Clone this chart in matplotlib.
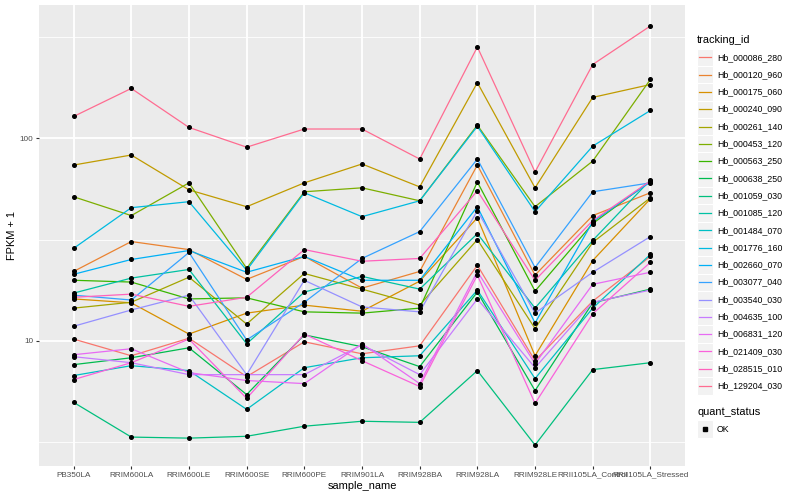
import numpy as np
import matplotlib
matplotlib.use('Agg')
import matplotlib.pyplot as plt
from matplotlib.lines import Line2D
from matplotlib.patches import Rectangle
from matplotlib.ticker import NullFormatter

plt.rcParams['font.family'] = ['Liberation Sans', 'DejaVu Sans']

samples = ['PB350LA', 'RRIM600LA', 'RRIM600LE', 'RRIM600SE', 'RRIM600PE',
           'RRIM901LA', 'RRIM928BA', 'RRIM928LA', 'RRIM928LE',
           'RRII105LA_Control', 'RRII105LA_Stressed']

# FPKM + 1 per sample
hb_000086_280 = [10.2, 8.44, 10.3, 6.66, 9.89, 8.63, 9.45, 23.6, 7.98, 15.7, 26.1]
hb_000120_960 = [22.0, 30.9, 28.2, 20.1, 26.1, 18.2, 22.0, 73.7, 21.1, 41.5, 53.8]
hb_000175_060 = [16.1, 15.4, 10.8, 13.7, 15.0, 14.0, 19.7, 40.5, 8.44, 24.9, 50.2]
hb_000240_090 = [73.7, 82.6, 55.6, 45.9, 60.2, 74.6, 57.5, 188, 56.9, 159, 184]
hb_000261_140 = [14.5, 15.5, 20.6, 12.1, 21.5, 18.0, 15.0, 31.6, 11.5, 30.6, 50.8]
hb_000453_120 = [51.4, 41.5, 60.2, 22.8, 54.4, 56.9, 49.1, 116, 45.9, 77.1, 195]
hb_000563_250 = [19.9, 19.5, 16.1, 16.3, 13.9, 13.7, 14.5, 60.8, 17.6, 37.9, 61.5]
hb_000638_250 = [7.63, 8.25, 9.24, 5.43, 10.7, 9.35, 7.46, 17.4, 5.68, 15.4, 18.0]
hb_001059_030 = [4.97, 3.35, 3.31, 3.38, 3.79, 4.01, 3.96, 7.13, 3.06, 7.21, 7.80]
hb_001085_120 = [17.2, 20.4, 22.5, 9.67, 17.4, 20.8, 18.0, 33.8, 14.5, 31.3, 62.2]
hb_001484_070 = [6.74, 7.54, 7.13, 4.59, 7.37, 8.25, 8.44, 17.8, 6.51, 14.5, 26.7]
hb_001776_160 = [28.6, 45.4, 48.6, 22.3, 53.8, 41.0, 49.1, 114.5, 43.4, 91.4, 137]
hb_002660_070 = [21.3, 25.2, 27.9, 21.8, 26.1, 19.9, 19.9, 45.9, 12.25, 38.7, 60.8]
hb_003077_040 = [16.8, 15.9, 27.3, 10.1, 15.5, 25.5, 34.6, 78.9, 23.0, 54.4, 60.2]
hb_003540_030 = [11.8, 14.2, 16.8, 6.81, 19.9, 14.7, 13.9, 43.9, 13.7, 21.8, 32.7]
hb_004635_100 = [8.35, 7.80, 6.81, 6.81, 6.81, 9.56, 6.81, 16.1, 7.37, 15.5, 17.8]
hb_006831_120 = [8.54, 9.14, 6.97, 6.37, 6.15, 9.67, 6.15, 22.0, 7.71, 19.0, 21.8]
hb_021409_030 = [6.44, 7.80, 10.2, 5.20, 10.8, 7.98, 5.95, 21.1, 4.91, 13.6, 24.4]
hb_028515_010 = [16.4, 17.0, 14.8, 16.4, 28.2, 24.7, 25.5, 55.0, 19.9, 39.2, 61.5]
hb_129204_030 = [128, 176, 113, 90.3, 111, 111, 78.9, 282, 68.1, 231, 358]

tracking_ids = ['Hb_000086_280', 'Hb_000120_960', 'Hb_000175_060', 'Hb_000240_090',
                'Hb_000261_140', 'Hb_000453_120', 'Hb_000563_250', 'Hb_000638_250',
                'Hb_001059_030', 'Hb_001085_120', 'Hb_001484_070', 'Hb_001776_160',
                'Hb_002660_070', 'Hb_003077_040', 'Hb_003540_030', 'Hb_004635_100',
                'Hb_006831_120', 'Hb_021409_030', 'Hb_028515_010', 'Hb_129204_030']
series = [hb_000086_280, hb_000120_960, hb_000175_060, hb_000240_090, hb_000261_140,
          hb_000453_120, hb_000563_250, hb_000638_250, hb_001059_030, hb_001085_120,
          hb_001484_070, hb_001776_160, hb_002660_070, hb_003077_040, hb_003540_030,
          hb_004635_100, hb_006831_120, hb_021409_030, hb_028515_010, hb_129204_030]

# ggplot hue palette, 20 levels
colors = ['#F8766D', '#EA8331', '#D89000', '#C09B00', '#A3A500', '#7CAE00', '#39B600',
          '#00BB4E', '#00BF7D', '#00C1A3', '#00BFC4', '#00BAE0', '#00B0F6', '#35A2FF',
          '#9590FF', '#C77CFF', '#E76BF3', '#FA62DB', '#FF62BC', '#FF6C91']

W, H = 800, 500
fig = plt.figure(figsize=(8, 5), dpi=100)
fx = lambda px: px / W
fy = lambda py: 1 - py / H

ax = fig.add_axes([fx(39), fy(466), fx(685) - fx(39), fy(5) - fy(466)])
ax.set_facecolor('#EBEBEB')
for s in ax.spines.values():
    s.set_visible(False)

x = np.arange(1, len(samples) + 1)
for vals, col in zip(series, colors):
    ax.plot(x, vals, color=col, lw=0.9, zorder=2)
for vals in series:
    ax.plot(x, vals, ls='none', marker='o', ms=2.6, color='black', zorder=3)

ax.set_yscale('log')
allv = np.log10(np.concatenate([np.array(v) for v in series]))
lo, hi = allv.min(), allv.max()
pad = 0.05 * (hi - lo)
ax.set_ylim(10 ** (lo - pad), 10 ** (hi + pad))
ax.set_xlim(0.4, len(samples) + 0.6)

ax.set_yticks([10, 100])
ax.set_yticklabels(['10', '100'])
ax.set_yticks([10 ** 0.5, 10 ** 1.5, 10 ** 2.5], minor=True)
ax.yaxis.set_minor_formatter(NullFormatter())
ax.set_xticks(x)
ax.set_xticklabels(samples)
ax.tick_params(which='major', length=2.5, width=0.8, color='#333333',
               labelsize=5.9, labelcolor='#4D4D4D', pad=1.5)
ax.tick_params(which='minor', length=0)
ax.grid(which='major', color='white', lw=1.3)
ax.grid(which='minor', axis='y', color='white', lw=0.6)
ax.set_axisbelow(True)

ax.set_xlabel('sample_name', fontsize=7.9, labelpad=2)
ax.set_ylabel('FPKM + 1', fontsize=7.9, labelpad=2)

# legend: tracking_id
fig.text(fx(697), fy(40), 'tracking_id', fontsize=7.9, va='center', ha='left')
step = 17.3
for i, (tid, col) in enumerate(zip(tracking_ids, colors)):
    cy = 57.3 + step * i
    fig.add_artist(Rectangle((fx(697), fy(cy + step / 2)), fx(16), step / H,
                             facecolor='#F2F2F2', edgecolor='white', lw=0.8))
    fig.add_artist(Line2D([fx(699), fx(711)], [fy(cy), fy(cy)], color=col, lw=0.9))
    fig.text(fx(717), fy(cy), tid, fontsize=6.3, va='center', ha='left')

# legend: quant_status
fig.text(fx(697), fy(412), 'quant_status', fontsize=7.9, va='center', ha='left')
fig.add_artist(Rectangle((fx(697), fy(429 + step / 2)), fx(16), step / H,
                         facecolor='#F2F2F2', edgecolor='white', lw=0.8))
fig.add_artist(Line2D([fx(705)], [fy(429)], ls='none', marker='s', ms=2.4, color='black'))
fig.text(fx(717), fy(429), 'OK', fontsize=6.3, va='center', ha='left')

fig.savefig('out.png', dpi=100)
